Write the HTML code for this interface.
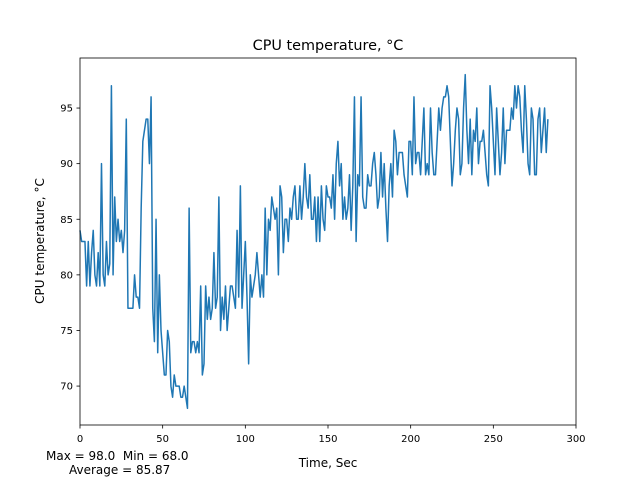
<!DOCTYPE html>
<html><head><meta charset="utf-8"><style>
body{margin:0;background:#fff}
svg{display:block;font-family:"DejaVu Sans","Liberation Sans",sans-serif}
</style></head><body>
<svg id="chart" width="640" height="480" viewBox="0 0 640 480">
<rect width="640" height="480" fill="#fff"/>
<text x="328" y="50" font-size="14.4" text-anchor="middle">CPU temperature, °C</text>
<g id="yticks"></g><g id="xticks"></g>
<path id="line" fill="none" stroke="#1f77b4" stroke-width="1.5" stroke-linejoin="round"/>
<rect x="80" y="58" width="496" height="367" fill="none" stroke="#000" stroke-width="0.8"/>
<text x="328" y="467" font-size="12" text-anchor="middle">Time, Sec</text>
<text transform="translate(44,241) rotate(-90)" font-size="12" text-anchor="middle">CPU temperature, °C</text>
<text x="46" y="460" font-size="12">Max = 98.0&#160;&#160;Min = 68.0</text>
<text x="69" y="474" font-size="12">Average = 85.87</text>
</svg>
<script>
const xTicks=[0,50,100,150,200,250,300];
const yTicks=[70,75,80,85,90,95];
const temps=[84,83,83,83,79,83,79,82,84,80,
79,82,79,90,80,79,83,80,81,97,
80,87,83,85,83,84,82,84,94,77,
77,77,77,80,78,78,77,86,92,93,
94,94,90,96,77,74,85,73,80,75,
73,71,71,75,74,70,69,71,70,70,
70,69,69,70,69,68,86,73,74,74,
73,74,73,79,71,72,79,76,78,76,
77,82,77,78,87,75,78,76,79,75,
77,79,79,78,77,84,78,88,77,80,
83,78,72,80,78,79,80,82,80,78,
80,78,86,80,85,84,87,86,85,86,
80,88,87,82,85,85,83,86,85,87,
88,85,85,88,85,87,90,87,86,89,
85,85,87,83,87,83,88,85,84,88,
87,87,86,89,85,90,92,88,90,85,
87,85,86,89,84,88,96,83,89,88,
96,87,86,86,89,88,88,90,91,89,
86,87,91,87,90,86,83,88,90,87,
93,92,89,91,91,91,89,88,87,92,
92,89,96,90,91,91,89,92,95,89,
90,89,95,91,89,89,92,95,93,95,
96,96,97,96,92,88,90,93,95,94,
89,90,95,98,93,90,94,89,93,92,
95,90,92,92,93,91,89,88,97,95,
92,89,95,92,89,91,95,90,93,93,
93,95,94,97,95,97,96,93,91,97,
94,90,89,95,94,89,89,94,95,91,
93,95,91,94];
const X0=80,X1=576,Y0=425,Y1=58,xmin=0,xmax=300,ymin=66.5,ymax=99.5;
const sx=v=>X0+(v-xmin)/(xmax-xmin)*(X1-X0);
const sy=v=>Y0-(v-ymin)/(ymax-ymin)*(Y0-Y1);
const NS="http://www.w3.org/2000/svg";
const line=document.getElementById('line');
line.setAttribute('d',temps.map((v,i)=>(i?'L':'M')+sx(i).toFixed(2)+','+sy(v).toFixed(2)).join(''));
const xg=document.getElementById('xticks');
xTicks.forEach(t=>{
const l=document.createElementNS(NS,'line');
l.setAttribute('x1',sx(t));l.setAttribute('x2',sx(t));l.setAttribute('y1',Y0);l.setAttribute('y2',Y0+3.5);l.setAttribute('stroke','#000');l.setAttribute('stroke-width','0.8');


xg.appendChild(l);
const tx=document.createElementNS(NS,'text');
tx.setAttribute('x',sx(t));tx.setAttribute('y',Y0+17);tx.setAttribute('font-size','10');tx.setAttribute('text-anchor','middle');tx.textContent=t;


xg.appendChild(tx);
});
const yg=document.getElementById('yticks');
yTicks.forEach(t=>{
const l=document.createElementNS(NS,'line');
l.setAttribute('x1',X0-3.5);l.setAttribute('x2',X0);l.setAttribute('y1',sy(t));l.setAttribute('y2',sy(t));l.setAttribute('stroke','#000');l.setAttribute('stroke-width','0.8');


yg.appendChild(l);
const tx=document.createElementNS(NS,'text');
tx.setAttribute('x',X0-7);tx.setAttribute('y',sy(t)+3.5);tx.setAttribute('font-size','10');tx.setAttribute('text-anchor','end');tx.textContent=t;


yg.appendChild(tx);
});
</script>
</body></html>
